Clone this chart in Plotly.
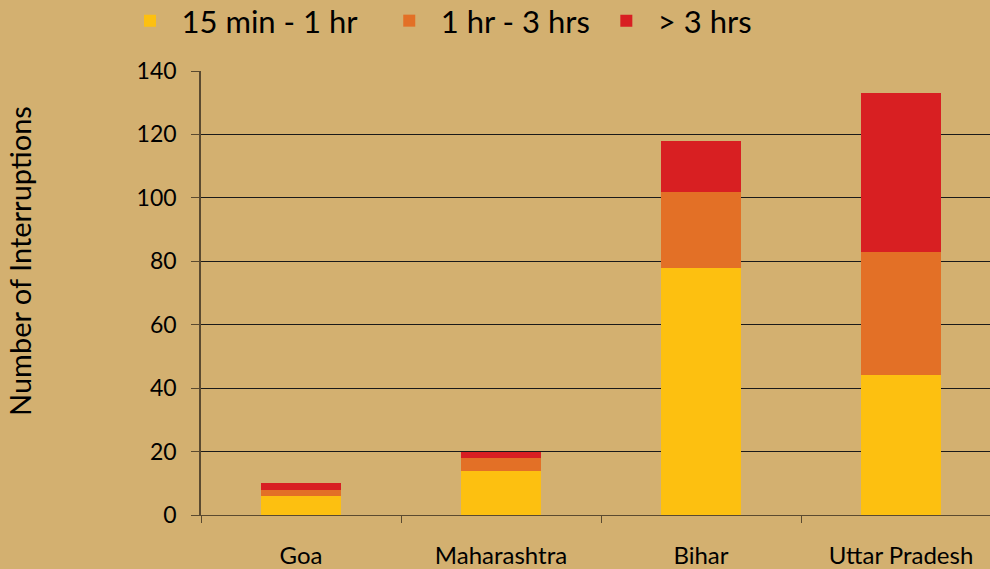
import plotly.graph_objects as go

states = ["Goa", "Maharashtra", "Bihar", "Uttar Pradesh"]
short = [6, 14, 78, 44]
medium = [2, 4, 24, 39]
long_ = [2, 2, 16, 50]
series_names = ["15 min - 1 hr\u00a0\u00a0", "1 hr - 3 hrs", "> 3 hrs"]
colors = ["#FDC010", "#E37026", "#D81F22"]
y_ticks = [0, 20, 40, 60, 80, 100, 120, 140]

bg = "#D3B070"
font_family = "Lato, 'Open Sans', sans-serif"

fig = go.Figure()
for name, vals, col in zip(series_names, [short, medium, long_], colors):
    fig.add_trace(go.Bar(x=states, y=vals, name=name, marker=dict(color=col, line=dict(width=0)), width=0.4))

fig.update_layout(
    barmode="stack",
    width=990, height=569,
    paper_bgcolor=bg, plot_bgcolor=bg,
    margin=dict(l=201, r=0, t=71, b=54, autoexpand=False),
    font=dict(family=font_family, color="#000000", size=18),
    showlegend=True,
    legend=dict(orientation="h", x=(118.5 - 201) / 789, y=1 + (71 - 21) / 444, xanchor="left", yanchor="middle",
                font=dict(size=31), bgcolor="rgba(0,0,0,0)", itemwidth=53,
                traceorder="normal"),
    xaxis=dict(range=[-0.5, 3.445], showline=True, linecolor="#5a4a30", linewidth=1,
               ticks="outside", tickson="boundaries", ticklen=7, tickcolor="#5a4a30",
               showgrid=False, tickfont=dict(size=24), ticklabelstandoff=19),
    yaxis=dict(range=[0, 140], tickvals=y_ticks, showline=True, linecolor="#5a4a30", linewidth=1.5,
               ticks="outside", ticklen=8, tickcolor="#5a4a30",
               showgrid=True, gridcolor="#1a1a1a", gridwidth=1, zeroline=False,
               tickfont=dict(size=23), ticklabelstandoff=10),
    annotations=[dict(text="Number of Interruptions", textangle=-90, xref="paper", yref="paper",
                      x=(19 - 201) / 789, y=(515 - 261) / 444, showarrow=False, font=dict(size=29),
                      xanchor="center", yanchor="middle")],
)

fig.write_html("out.html", config={"displayModeBar": False},
               post_script="document.body.style.margin='0';document.body.style.overflow='hidden';")
